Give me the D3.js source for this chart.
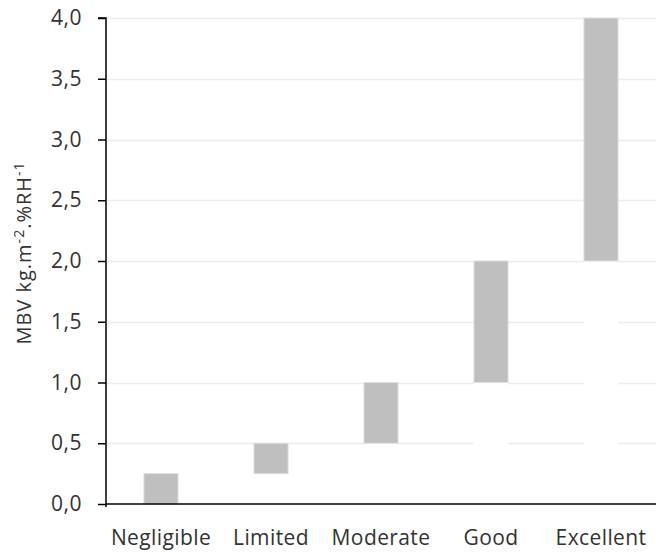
<!DOCTYPE html>
<html><head><meta charset="utf-8">
<script src="https://cdn.jsdelivr.net/npm/d3@7"></script>
<style>body{margin:0;background:#fff}svg{display:block}</style>
</head><body>
<svg id="c" width="656" height="554"></svg>
<script>
const categories = ["Negligible","Limited","Moderate","Good","Excellent"];
const lowValues = [0, 0.25, 0.5, 1.0, 2.0];
const highValues = [0.25, 0.5, 1.0, 2.0, 4.0];
const yTicks = [0,0.5,1,1.5,2,2.5,3,3.5,4];

const svg = d3.select("#c");
const m = {left:106, right:0, top:18, bottom:50};
const W = 656, H = 554;
const x = d3.scaleBand().domain(categories).range([m.left, W - m.right]).paddingInner(0.69).paddingOuter(0.345);
const y = d3.scaleLinear().domain([0,4]).range([H - m.bottom, m.top]);
const font = "'Open Sans', sans-serif";
const txt = "#333333";

// gridlines
svg.append("g").selectAll("line").data(yTicks.filter(d=>d>0)).join("line")
  .attr("x1", m.left).attr("x2", W - m.right)
  .attr("y1", d=>Math.round(y(d))+0.5).attr("y2", d=>Math.round(y(d))+0.5)
  .attr("stroke","#ececec").attr("stroke-width",1.5);

const data = categories.map((c,i)=>({c, lo:lowValues[i], hi:highValues[i]}));
// white base segments (hide gridlines)
svg.append("g").selectAll("rect").data(data).join("rect")
  .attr("x", d=>x(d.c)).attr("width", x.bandwidth())
  .attr("y", d=>y(d.lo)).attr("height", d=>y(0)-y(d.lo))
  .attr("fill","#ffffff");
// gray range bars
svg.append("g").selectAll("rect").data(data).join("rect")
  .attr("x", d=>x(d.c)).attr("width", x.bandwidth())
  .attr("y", d=>y(d.hi)).attr("height", d=>y(d.lo)-y(d.hi))
  .attr("fill","#bfbfbf").attr("stroke","#dedede").attr("stroke-width",1);

// y axis
const ya = svg.append("g").attr("transform",`translate(${m.left},0)`)
  .call(d3.axisLeft(y).tickValues(yTicks).tickSize(8).tickPadding(16)
    .tickFormat(d=>d3.format(".1f")(d).replace(".",",")));
ya.select(".domain").attr("stroke","#000").attr("stroke-width",1.5).attr("d",`M-8,${y(4)}H0V${y(0)+3}`);
ya.selectAll(".tick line").attr("stroke","#000").attr("stroke-width",1.5);
ya.selectAll("text").attr("font-family",font).attr("font-size",21).attr("letter-spacing",0.5).attr("fill",txt);

// x axis
const xa = svg.append("g").attr("transform",`translate(0,${y(0)})`)
  .call(d3.axisBottom(x).tickSize(0).tickPadding(26));
xa.select(".domain").attr("stroke","#000").attr("stroke-width",1.5).attr("d",`M${m.left},0H${W}`);
xa.selectAll("text").attr("font-family",font).attr("font-size",21).attr("letter-spacing",0.4).attr("fill",txt);

// y title
const t = svg.append("text").attr("transform",`translate(31,${(y(0)+y(4))/2 - 8}) rotate(-90)`)
  .attr("text-anchor","middle").attr("font-family",font).attr("font-size",20).attr("letter-spacing",1).attr("fill",txt);
t.append("tspan").text("MBV kg.m");
t.append("tspan").attr("dy",-7).attr("font-size",14).text("-2");
t.append("tspan").attr("dy",7).text(".%RH");
t.append("tspan").attr("dy",-7).attr("font-size",14).text("-1");
</script>
</body></html>
